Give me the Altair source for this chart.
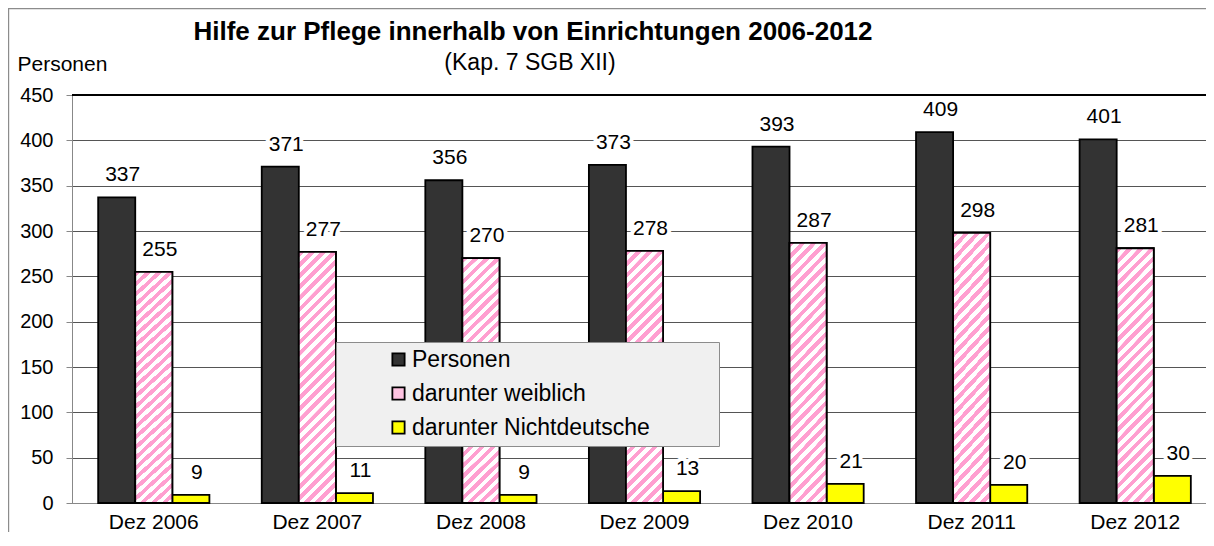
import altair as alt
import pandas as pd

categories = ["Dez 2006", "Dez 2007", "Dez 2008", "Dez 2009", "Dez 2010", "Dez 2011", "Dez 2012"]
personen = [337, 371, 356, 373, 393, 409, 401]
weiblich = [255, 277, 270, 278, 287, 298, 281]
nichtdeutsche = [9, 11, 9, 13, 21, 20, 30]
series_names = ["Personen", "darunter weiblich", "darunter Nichtdeutsche"]
y_ticks = [0, 50, 100, 150, 200, 250, 300, 350, 400, 450]
title_text = "Hilfe zur Pflege innerhalb von Einrichtungen 2006-2012"
subtitle_text = "(Kap. 7 SGB XII)"
y_title = "Personen"

rows = []
for i, c in enumerate(categories):
    for s, vals in zip(series_names, [personen, weiblich, nichtdeutsche]):
        rows.append({"Monat": c, "Reihe": s, "Wert": vals[i]})
df = pd.DataFrame(rows)

FONT = "Liberation Sans"
W, H = 1134, 408          # visible plot area
X_RANGE = 1145            # category band continues past the right edge, as in the original
PAD_INNER = 0.32
PINK = "#ff9fd0"
FRAME = "#8c8c8c"

# diagonal hatch for the "weiblich" bars, built as a hard-stop linear gradient
step = X_RANGE / len(categories)
bar_w = step * (1 - PAD_INNER) / 3
h_ref = 250.0
k = (bar_w + h_ref) / (bar_w ** 2 + h_ref ** 2)
n_periods = round((bar_w + h_ref) / 11)
stops = []
eps = 0.0004
for i in range(n_periods):
    a = i / n_periods
    m = (i + 0.5) / n_periods
    e = (i + 1) / n_periods
    stops += [
        alt.GradientStop(offset=a, color=PINK),
        alt.GradientStop(offset=m - eps, color=PINK),
        alt.GradientStop(offset=m, color="white"),
        alt.GradientStop(offset=e - eps, color="white"),
    ]
hatch = alt.LinearGradient(gradient="linear", stops=stops, x1=0, y1=0,
                           x2=k * bar_w, y2=k * h_ref)

x_enc = alt.X("Monat:N", sort=categories, title=None,
              scale=alt.Scale(range=[0, X_RANGE], paddingInner=PAD_INNER,
                              paddingOuter=PAD_INNER / 2),
              axis=alt.Axis(labelAngle=0, ticks=False, labelPadding=8,
                            labelFontSize=21, grid=False))
xo_enc = alt.XOffset("Reihe:N", sort=series_names,
                     scale=alt.Scale(domain=series_names, paddingInner=0, paddingOuter=0))
y_enc = alt.Y("Wert:Q", scale=alt.Scale(domain=[0, 450], nice=False),
              axis=alt.Axis(values=y_ticks, title=y_title, titleAngle=0,
                            titleX=-55, titleY=-25, titleAlign="left",
                            titleBaseline="alphabetic", titleFontSize=21,
                            titleFontWeight="normal", titleFont=FONT,
                            labelFontSize=20, tickSize=6, labelPadding=13,
                            grid=True, gridColor="#555555", gridWidth=1))

base = alt.Chart(df)

bars = base.mark_bar(stroke="black", strokeWidth=1.8).encode(
    x=x_enc, xOffset=xo_enc, y=y_enc,
    color=alt.Color("Reihe:N", sort=series_names,
                    scale=alt.Scale(domain=series_names,
                                    range=["#333333", "#ffc4e2", "#ffff00"]),
                    legend=alt.Legend(title="WWW", titleOrient="right", titleFontSize=22,
                                      titleColor="transparent", titleOpacity=0,
                                      titlePadding=0,
                                      orient="none", legendX=264, legendY=247,
                                      fillColor="#f0f0f0", strokeColor=FRAME,
                                      padding=6, symbolType="square", symbolSize=150,
                                      symbolStrokeColor="black", symbolStrokeWidth=1.8,
                                      symbolOffset=45, labelFontSize=23, labelFont=FONT,
                                      labelColor="black", labelOffset=2, rowPadding=10,
                                      labelLimit=600)),
)

pink_bars = base.transform_filter(alt.datum.Reihe == "darunter weiblich").mark_bar(
    stroke="black", strokeWidth=1.8, color=hatch
).encode(x=x_enc, xOffset=xo_enc, y=y_enc)

top_rule = alt.Chart(pd.DataFrame({"v": [y_ticks[-1]]})).mark_rule(
    color="black", strokeWidth=2).encode(y=alt.Y("v:Q", scale=alt.Scale(domain=[0, 450], nice=False)))

halo = base.mark_text(fontSize=21, font=FONT, dy=-22, dx=6, stroke="white", strokeWidth=8,
                      strokeJoin="round", fill="white").encode(
    x=x_enc, xOffset=xo_enc, y=y_enc, text="Wert:Q")
labels = base.mark_text(fontSize=21, font=FONT, dy=-22, dx=6, color="black").encode(
    x=x_enc, xOffset=xo_enc, y=y_enc, text="Wert:Q")

# outer chart border (left and top edges; the rest lies outside the picture)
one = pd.DataFrame({"f": [0]})
frame_left = alt.Chart(one).mark_rect(color=FRAME, strokeWidth=0).encode(
    x=alt.value(-64), x2=alt.value(-62.8), y=alt.value(-87), y2=alt.value(H + 29))
frame_top = alt.Chart(one).mark_rect(color=FRAME, strokeWidth=0).encode(
    x=alt.value(-64), x2=alt.value(W), y=alt.value(-87), y2=alt.value(-85.8))

title_mark = alt.Chart(pd.DataFrame({"t": [title_text]})).mark_text(
    font=FONT, fontSize=26, fontWeight="bold", color="black", align="center",
    baseline="alphabetic").encode(x=alt.value(461), y=alt.value(-55), text="t:N")
subtitle_mark = alt.Chart(pd.DataFrame({"t": [subtitle_text]})).mark_text(
    font=FONT, fontSize=23, color="black", align="center",
    baseline="alphabetic").encode(x=alt.value(458), y=alt.value(-25), text="t:N")

chart = alt.layer(frame_left, frame_top, bars, pink_bars, top_rule, halo, labels,
                  title_mark, subtitle_mark).properties(
    width=W, height=H,
    padding={"left": 64, "top": 87, "right": 0, "bottom": 29},
    autosize=alt.AutoSizeParams(type="none"),
).configure_view(stroke="transparent").configure_axis(
    domainColor="black", domainWidth=2, tickColor="black", labelColor="black",
    labelFont=FONT, titleColor="black"
).configure(background="white")

chart.save("out.html", embed_options={"renderer": "svg", "actions": False})
